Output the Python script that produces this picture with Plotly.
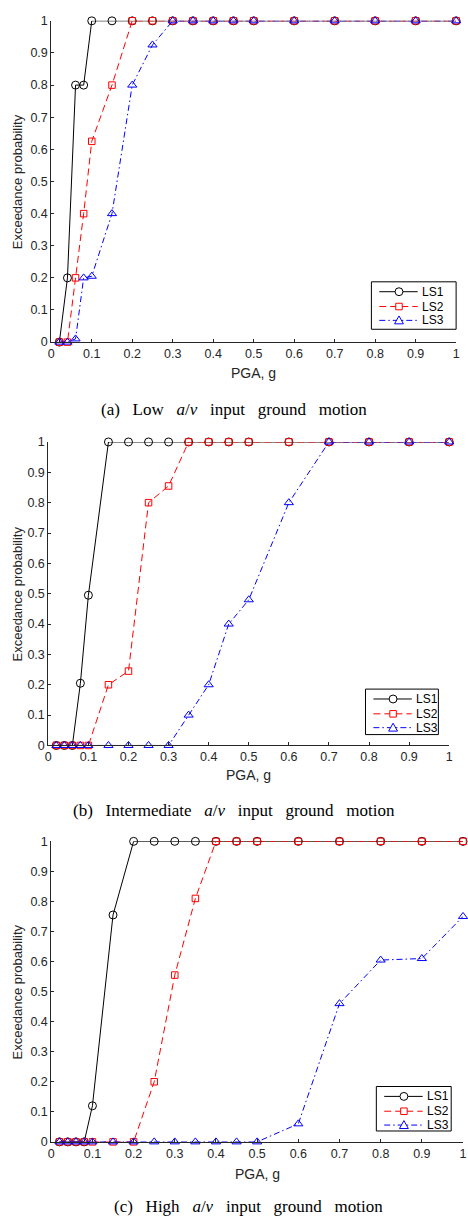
import plotly.graph_objects as go

pga = [0.02, 0.04, 0.06, 0.08, 0.1, 0.15, 0.2, 0.25, 0.3, 0.35, 0.4, 0.45, 0.5, 0.6, 0.7, 0.8, 0.9, 1.0]

# (a) Low a/v
a_ls1 = [0, 0.2, 0.8, 0.8, 1, 1, 1, 1, 1, 1, 1, 1, 1, 1, 1, 1, 1, 1]
a_ls2 = [0, 0, 0.2, 0.4, 0.625, 0.8, 1, 1, 1, 1, 1, 1, 1, 1, 1, 1, 1, 1]
a_ls3 = [0, 0, 0.01, 0.2, 0.205, 0.4, 0.8, 0.925, 1, 1, 1, 1, 1, 1, 1, 1, 1, 1]

# (b) Intermediate a/v
b_ls1 = [0, 0, 0, 0.205, 0.495, 1, 1, 1, 1, 1, 1, 1, 1, 1, 1, 1, 1, 1]
b_ls2 = [0, 0, 0, 0, 0, 0.2, 0.245, 0.8, 0.855, 1, 1, 1, 1, 1, 1, 1, 1, 1]
b_ls3 = [0, 0, 0, 0, 0, 0, 0, 0, 0, 0.1, 0.2, 0.4, 0.48, 0.8, 1, 1, 1, 1]

# (c) High a/v
c_ls1 = [0, 0, 0, 0, 0.12, 0.755, 1, 1, 1, 1, 1, 1, 1, 1, 1, 1, 1, 1]
c_ls2 = [0, 0, 0, 0, 0, 0, 0, 0.2, 0.555, 0.81, 1, 1, 1, 1, 1, 1, 1, 1]
c_ls3 = [0, 0, 0, 0, 0, 0, 0, 0, 0, 0, 0, 0, 0, 0.06, 0.46, 0.605, 0.61, 0.75]

series_names = ["LS1", "LS2", "LS3"]
SP = "&nbsp;&nbsp;"
captions = [f"(a){SP} Low{SP} <i>a</i>/<i>v</i>{SP} input{SP} ground{SP} motion",
            f"(b){SP} Intermediate{SP} <i>a</i>/<i>v</i>{SP} input{SP} ground{SP} motion",
            f"(c){SP} High{SP} <i>a</i>/<i>v</i>{SP} input{SP} ground{SP} motion"]
xticks = [0, 0.1, 0.2, 0.3, 0.4, 0.5, 0.6, 0.7, 0.8, 0.9, 1]
xtick_text = ["0", "0.1", "0.2", "0.3", "0.4", "0.5", "0.6", "0.7", "0.8", "0.9", "1"]
yticks = [0, 0.1, 0.2, 0.3, 0.4, 0.5, 0.6, 0.7, 0.8, 0.9, 1]
ytick_text = ["0", "0.1", "0.2", "0.3", "0.4", "0.5", "0.6", "0.7", "0.8", "0.9", "1"]

W, H = 468, 1224
# pixel boxes: (left, right, top, bottom)
boxes = [(49, 460, 14, 339), (46, 453, 440, 747), (49, 467, 844, 1148)]
# legend boxes: (left, right, top, bottom)
legend_boxes = [(374, 460, 278, 326), (368, 442, 690, 736), (379, 455, 1092, 1137)]
caption_pos = [(235, 407), (235, 813), (249, 1213)]
xtitle_y = [370, 777, 1180]

styles = [
    dict(color="black", dash="solid", symbol="circle-open", size=8),
    dict(color="red", dash="7px,4px", symbol="square-open", size=6.5),
    dict(color="blue", dash="6px,3px,1.5px,3px", symbol="triangle-up-open", size=8),
]

fig = go.Figure()
panels = [[a_ls1, a_ls2, a_ls3], [b_ls1, b_ls2, b_ls3], [c_ls1, c_ls2, c_ls3]]
font_sans = "Liberation Sans, Arial, sans-serif"
font_serif = "Liberation Serif, Times New Roman, serif"
tick_color = "#262626"


def px(x):
    return x / W


def py(y):
    return 1 - y / H


for i, data in enumerate(panels):
    sfx = "" if i == 0 else str(i + 1)
    for j, vals in enumerate(data):
        st = styles[j]
        fig.add_trace(go.Scatter(
            x=pga, y=vals, mode="lines+markers", name=series_names[j],
            line=dict(color=st["color"], dash=st["dash"], width=1),
            marker=dict(symbol=st["symbol"], size=st["size"], color=st["color"],
                        line=dict(width=1, color=st["color"])),
            xaxis="x" + sfx, yaxis="y" + sfx, showlegend=False, cliponaxis=False,
        ))
    l, r, t, b = boxes[i]
    common = dict(showline=True, linecolor=tick_color, linewidth=1, ticks="inside",
                  ticklen=3, tickcolor=tick_color, showgrid=False, zeroline=False,
                  tickfont=dict(family=font_sans, size=12.5, color=tick_color), range=[0, 1])
    fig.layout["xaxis" + sfx] = dict(domain=[px(l), px(r)], anchor="y" + sfx, tickvals=xticks,
                                     ticktext=xtick_text, **common)
    fig.layout["yaxis" + sfx] = dict(domain=[py(b), py(t)], anchor="x" + sfx, tickvals=yticks,
                                     ticktext=ytick_text, **common)

    # legend box (drawn)
    lx0, lx1, ly0, ly1 = legend_boxes[i]
    fig.add_shape(type="rect", xref="paper", yref="paper", x0=px(lx0), x1=px(lx1),
                  y0=py(ly1), y1=py(ly0), line=dict(color="black", width=1),
                  fillcolor="white", layer="above")
    row_off = [10, 25, 39]
    for j in range(3):
        st = styles[j]
        yy = ly0 + row_off[j]
        fig.add_shape(type="line", xref="paper", yref="paper", x0=px(lx0 + 8), x1=px(lx0 + 47),
                      y0=py(yy), y1=py(yy), line=dict(color=st["color"], width=1, dash=st["dash"]),
                      layer="above")
        mx = lx0 + 28
        if j == 0:
            fig.add_shape(type="circle", xref="paper", yref="paper", x0=px(mx - 4), x1=px(mx + 4),
                          y0=py(yy + 4), y1=py(yy - 4), line=dict(color=st["color"], width=1),
                          fillcolor="white", layer="above")
        elif j == 1:
            fig.add_shape(type="rect", xref="paper", yref="paper", x0=px(mx - 3.3), x1=px(mx + 3.3),
                          y0=py(yy + 3.3), y1=py(yy - 3.3), line=dict(color=st["color"], width=1),
                          fillcolor="white", layer="above")
        else:
            path = (f"M {px(mx - 4.5)} {py(yy + 3.5)} L {px(mx + 4.5)} {py(yy + 3.5)} "
                    f"L {px(mx)} {py(yy - 4.5)} Z")
            fig.add_shape(type="path", xref="paper", yref="paper", path=path,
                          line=dict(color=st["color"], width=1), fillcolor="white", layer="above")
        fig.add_annotation(xref="paper", yref="paper", x=px(lx0 + 49), y=py(yy),
                           text=series_names[j], showarrow=False, xanchor="left", yanchor="middle",
                           font=dict(family=font_sans, size=12, color="black"))

    fig.add_annotation(xref="paper", yref="paper", x=px((l + r) / 2), y=py(xtitle_y[i]),
                       text="PGA, g", showarrow=False, xanchor="center", yanchor="middle",
                       font=dict(family=font_sans, size=14, color=tick_color))
    fig.add_annotation(xref="paper", yref="paper", x=px(15), y=py((t + b) / 2),
                       text="Exceedance probability", showarrow=False, textangle=-90,
                       xanchor="center", yanchor="middle",
                       font=dict(family=font_sans, size=13, color=tick_color))
    cx, cy = caption_pos[i]
    fig.add_annotation(xref="paper", yref="paper", x=px(cx), y=py(cy),
                       text=captions[i], showarrow=False, xanchor="center", yanchor="middle",
                       font=dict(family=font_serif, size=17, color="black"))

fig.update_layout(width=W, height=H, margin=dict(l=0, r=0, t=0, b=0),
                  paper_bgcolor="white", plot_bgcolor="white", showlegend=False)

fig.write_html("out.html", config={"displayModeBar": False},
               post_script="document.body.style.margin='0px';document.body.style.overflow='hidden';")
